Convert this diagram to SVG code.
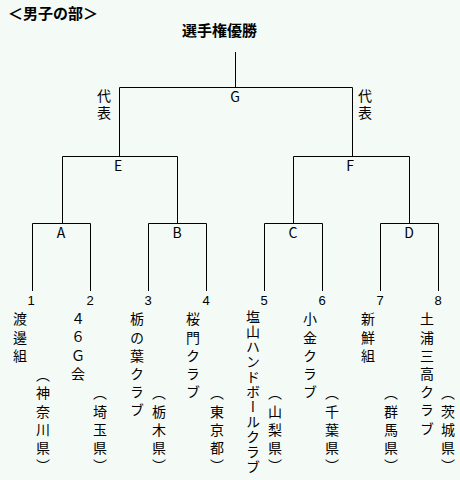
<svg xmlns="http://www.w3.org/2000/svg" width="460" height="480" viewBox="0 0 460 480">
<style>
.bg{fill:#F4FAF6}
.ln{fill:none;stroke:#000;stroke-width:1}
text{font-family:"Noto Sans CJK JP","Liberation Sans",sans-serif;fill:#000}
.ttl{font-size:15px;font-weight:bold}
.lab{font-size:14px;text-anchor:middle}
.num{font-size:13px;text-anchor:middle;font-family:"Liberation Sans","Noto Sans CJK JP",sans-serif}
.v{font-size:14px;writing-mode:vertical-rl;letter-spacing:4.2px}
.pref{text-anchor:end}
</style>
<rect class="bg" x="0" y="0" width="460" height="480"/>
<text class="ttl" x="8" y="19">＜男子の部＞</text>
<text class="ttl" x="182" y="36">選手権優勝</text>
<g id="connectors">
<path class="ln" d="M235.5 52V87.5"/>
<path class="ln" d="M119.5 156V87.5H352.5V156"/>
<path class="ln" d="M62.5 223V156.5H177.5V223"/>
<path class="ln" d="M293.5 223V156.5H409.5V223"/>
<path class="ln" d="M32.5 291V223.5H90.5V291"/>
<path class="ln" d="M148.5 291V223.5H206.5V291"/>
<path class="ln" d="M264.5 291V223.5H322.5V291"/>
<path class="ln" d="M380.5 291V223.5H438.5V291"/>
</g>
<g id="G"><text class="lab" x="235" y="102">G</text></g>
<g id="rep-left"><text class="v" x="104" y="89" style="letter-spacing:3px">代表</text></g>
<g id="rep-right"><text class="v" x="365" y="89" style="letter-spacing:3px">代表</text></g>
<g id="E"><text class="lab" x="118" y="171">E</text></g>
<g id="F"><text class="lab" x="350" y="171">F</text></g>
<g id="A"><text class="lab" x="61" y="238">A</text></g>
<g id="B"><text class="lab" x="177" y="238">B</text></g>
<g id="C"><text class="lab" x="293" y="238">C</text></g>
<g id="D"><text class="lab" x="409" y="238">D</text></g>
<g id="team1"><text class="num" x="31" y="305">1</text><text class="v" x="20" y="312">渡邊組</text><text class="v pref" x="43" y="477">（神奈川県）</text></g>
<g id="team2"><text class="num" x="90" y="305">2</text><text class="v" x="78" y="312">４６Ｇ会</text><text class="v pref" x="100" y="477">（埼玉県）</text></g>
<g id="team3"><text class="num" x="148" y="305">3</text><text class="v" x="137" y="312">栃の葉クラブ</text><text class="v pref" x="159" y="477">（栃木県）</text></g>
<g id="team4"><text class="num" x="206" y="305">4</text><text class="v" x="193" y="312">桜門クラブ</text><text class="v pref" x="217" y="477">（東京都）</text></g>
<g id="team5"><text class="num" x="264" y="305">5</text><text class="v" x="253" y="310" style="letter-spacing:1px">塩山ハンドボールクラブ</text><text class="v pref" x="275" y="477">（山梨県）</text></g>
<g id="team6"><text class="num" x="322" y="305">6</text><text class="v" x="310" y="312">小金クラブ</text><text class="v pref" x="332" y="477">（千葉県）</text></g>
<g id="team7"><text class="num" x="380" y="305">7</text><text class="v" x="368" y="312">新鮮組</text><text class="v pref" x="391" y="477">（群馬県）</text></g>
<g id="team8"><text class="num" x="438" y="305">8</text><text class="v" x="427" y="312">土浦三高クラブ</text><text class="v pref" x="448" y="477">（茨城県）</text></g>
</svg>
